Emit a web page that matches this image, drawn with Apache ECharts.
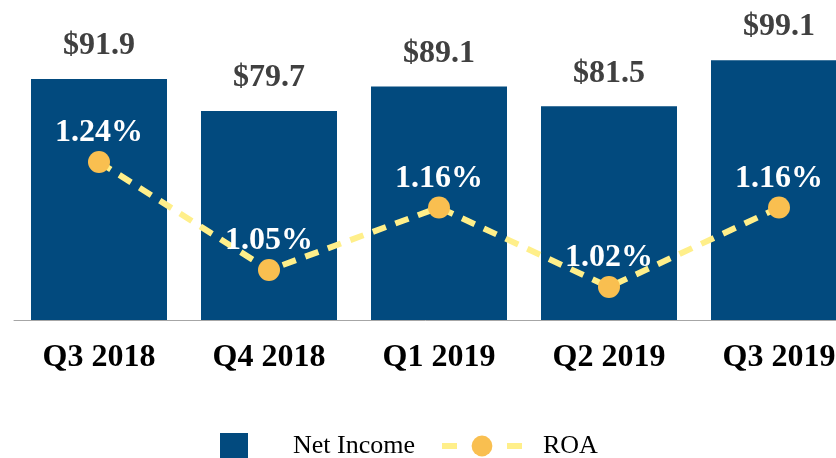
<!DOCTYPE html>
<html>
<head>
<meta charset="utf-8">
<script src="https://cdn.jsdelivr.net/npm/echarts@6/dist/echarts.min.js"></script>
<style>
  html, body { margin: 0; padding: 0; background: #fff; }
  #chart { width: 836px; height: 458px; }
</style>
</head>
<body>
<div id="chart"></div>
<script>
// data
var quarters = ['Q3 2018', 'Q4 2018', 'Q1 2019', 'Q2 2019', 'Q3 2019']
var netIncome = [91.9, 79.7, 89.1, 81.5, 99.1]
var roa = [1.24, 1.05, 1.16, 1.02, 1.16]

var serif = 'Liberation Serif'
var chart = echarts.init(document.getElementById('chart'))

var option = {
  animation: false,
  // plot runs past the right edge, last bar is cut off
  grid: { left: 14, width: 850, top: 18.5, bottom: 138, outerBoundsMode: 'none', containLabel: false },
  legend: [{
    data: ['Net Income'],
    left: 220,
    top: 433,
    itemWidth: 28,
    itemHeight: 26,
    icon: 'rect',
    padding: 0,
    textStyle: { fontFamily: serif, fontSize: 26, color: '#000', padding: [0, 0, 0, 40] }
  }, {
    data: ['ROA'],
    left: 439,
    top: 433,
    itemWidth: 80,
    itemHeight: 26,
    padding: 0,
    lineStyle: { type: [15, 50], width: 6 },
    textStyle: { fontFamily: serif, fontSize: 26, color: '#000', padding: [0, 0, 0, 16] }
  }],
  xAxis: {
    type: 'category',
    data: quarters,
    axisLine: { lineStyle: { color: '#a6a6a6', width: 1 } },
    axisTick: { show: false },
    axisLabel: { fontFamily: serif, fontSize: 32, fontWeight: 'bold', color: '#000', margin: 22 }
  },
  yAxis: [
    { type: 'value', min: 0, max: 115, show: false },
    { type: 'value', min: 0.962, max: 1.4926, show: false }
  ],
  series: [{
    name: 'Net Income',
    type: 'bar',
    data: netIncome,
    barWidth: '80%',
    itemStyle: { color: '#024a7e' },
    label: {
      show: true,
      position: 'top',
      distance: 17,
      formatter: function (p) { return '$' + p.value.toFixed(1) },
      fontFamily: serif,
      fontSize: 32,
      fontWeight: 'bold',
      color: '#404040'
    }
  }, {
    name: 'ROA',
    type: 'line',
    yAxisIndex: 1,
    data: roa,
    symbol: 'circle',
    symbolSize: 22,
    itemStyle: { color: '#f9bf50' },
    lineStyle: { color: '#ffef8a', width: 6, type: [14, 10] },
    label: {
      show: true,
      position: 'top',
      distance: 2,
      formatter: function (p) { return p.value.toFixed(2) + '%' },
      fontFamily: serif,
      fontSize: 32,
      fontWeight: 'bold',
      color: '#fff'
    }
  }]
}
chart.setOption(option)
</script>
</body>
</html>
